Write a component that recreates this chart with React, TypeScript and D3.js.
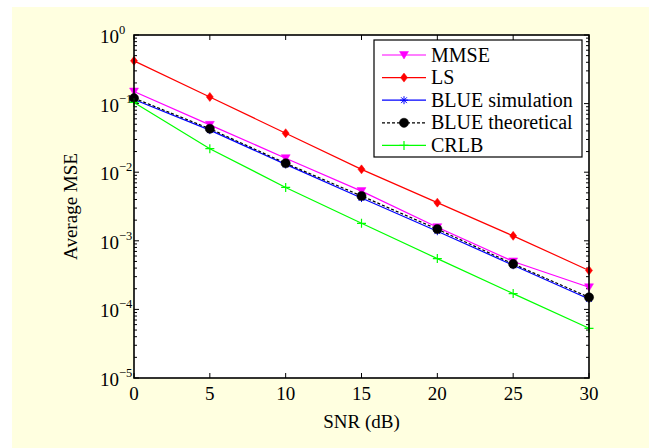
import React from "react";
import * as d3 from "d3";

const snr = [0, 5, 10, 15, 20, 25, 30];
const mmse = [0.15, 0.049, 0.016, 0.0053, 0.00158, 0.0005, 0.00021];
const ls = [0.42, 0.125, 0.037, 0.011, 0.0036, 0.00118, 0.00037];
const blueSim = [0.115, 0.041, 0.013, 0.0042, 0.00138, 0.00044, 0.000142];
const blueTheo = [0.12, 0.043, 0.0135, 0.0045, 0.00148, 0.00046, 0.00015];
const crlb = [0.104, 0.022, 0.006, 0.0018, 0.00055, 0.00017, 0.000053];
const xTicks = [0, 5, 10, 15, 20, 25, 30];
const yExps = [0, -1, -2, -3, -4, -5];

const W = 649, H = 448;
const L = 134, R = 589, T = 35, B = 378;
const font = "'Liberation Serif', 'Times New Roman', serif";

const series = [
  { name: "MMSE", data: mmse, color: "#ff00ff", marker: "tri", dash: "" },
  { name: "LS", data: ls, color: "#ff0000", marker: "diamond", dash: "" },
  { name: "BLUE simulation", data: blueSim, color: "#0000ff", marker: "star", dash: "" },
  { name: "BLUE theoretical", data: blueTheo, color: "#000000", marker: "circle", dash: "3,2" },
  { name: "CRLB", data: crlb, color: "#00ff00", marker: "plus", dash: "" },
];

function Marker({ type, x, y, color }: { type: string; x: number; y: number; color: string }) {
  if (type === "tri") {
    return <path d={`M${x - 4.5},${y - 3.5}L${x + 4.5},${y - 3.5}L${x},${y + 4}Z`} fill={color} stroke={color} strokeWidth={0.5} />;
  }
  if (type === "diamond") {
    return <path d={`M${x},${y - 4.5}L${x + 3.5},${y}L${x},${y + 4.5}L${x - 3.5},${y}Z`} fill={color} stroke={color} strokeWidth={0.5} />;
  }
  if (type === "circle") {
    return <circle cx={x} cy={y} r={4.6} fill={color} stroke={color} strokeWidth={0.5} />;
  }
  if (type === "star") {
    const s = 4;
    const d = 2.9;
    return (
      <path
        d={`M${x - s},${y}L${x + s},${y}M${x},${y - s}L${x},${y + s}M${x - d},${y - d}L${x + d},${y + d}M${x - d},${y + d}L${x + d},${y - d}`}
        stroke={color}
        strokeWidth={1}
        fill="none"
      />
    );
  }
  const s = 4.5;
  return <path d={`M${x - s},${y}L${x + s},${y}M${x},${y - s}L${x},${y + s}`} stroke={color} strokeWidth={1.2} fill="none" />;
}

export default function App() {
  const x = d3.scaleLinear().domain([0, 30]).range([L, R]);
  const y = d3.scaleLog().domain([1e-5, 1]).range([B, T]);
  const line = d3
    .line<number>()
    .x((_, i) => x(snr[i]))
    .y((d) => y(d));

  const minor: number[] = [];
  for (let e = -5; e < 0; e++) {
    for (let k = 2; k <= 9; k++) minor.push(k * Math.pow(10, e));
  }

  const legX = 374, legY = 40, legW = 208, legH = 117;
  const rowH = 22.6;

  return (
    <svg width={W} height={H} style={{ position: "absolute", left: 0, top: 0 }} fontFamily={font}>
      <rect x={0} y={0} width={W} height={H} fill="#ffffff" />
      <rect x={12} y={7} width={W - 12} height={H - 7} fill="#ffffe0" />
      <rect x={L} y={T} width={R - L} height={B - T} fill="#ffffff" />

      {/* ticks */}
      {xTicks.map((t) => (
        <g key={"xt" + t}>
          <line x1={x(t)} x2={x(t)} y1={B} y2={B - 5} stroke="#000" strokeWidth={1} />
          <line x1={x(t)} x2={x(t)} y1={T} y2={T + 5} stroke="#000" strokeWidth={1} />
          <text x={x(t)} y={400} textAnchor="middle" fontSize={19} fill="#000">
            {t}
          </text>
        </g>
      ))}
      {yExps.map((e) => (
        <g key={"yt" + e}>
          <line x1={L} x2={L + 5} y1={y(Math.pow(10, e))} y2={y(Math.pow(10, e))} stroke="#000" strokeWidth={1} />
          <line x1={R} x2={R - 5} y1={y(Math.pow(10, e))} y2={y(Math.pow(10, e))} stroke="#000" strokeWidth={1} />
          <text x={100} y={y(Math.pow(10, e)) + 8} fontSize={19} fill="#000">
            10
            <tspan fontSize={12.5} dy={-9}>
              {e === 0 ? "0" : "\u2212" + Math.abs(e)}
            </tspan>
          </text>
        </g>
      ))}
      {minor.map((m, i) => (
        <g key={"mn" + i}>
          <line x1={L} x2={L + 3} y1={y(m)} y2={y(m)} stroke="#000" strokeWidth={1} />
          <line x1={R} x2={R - 3} y1={y(m)} y2={y(m)} stroke="#000" strokeWidth={1} />
        </g>
      ))}

      {/* series */}
      {series.map((s) => (
        <g key={s.name}>
          <path d={line(s.data) || ""} fill="none" stroke={s.color} strokeWidth={1.2} strokeDasharray={s.dash || undefined} />
          {s.data.map((v, i) => (
            <Marker key={i} type={s.marker} x={x(snr[i])} y={y(v)} color={s.color} />
          ))}
        </g>
      ))}

      {/* axes box */}
      <rect x={L} y={T} width={R - L} height={B - T} fill="none" stroke="#000" strokeWidth={1.6} />

      {/* legend */}
      <rect x={legX} y={legY} width={legW} height={legH} fill="#ffffff" stroke="#000" strokeWidth={1.2} />
      {series.map((s, i) => {
        const cy = legY + 15 + i * rowH;
        return (
          <g key={"lg" + s.name}>
            <line x1={382} x2={426} y1={cy} y2={cy} stroke={s.color} strokeWidth={1.2} strokeDasharray={s.dash || undefined} />
            <Marker type={s.marker} x={404} y={cy} color={s.color} />
            <text x={431} y={cy + 6.5} fontSize={20} fill="#000">
              {s.name}
            </text>
          </g>
        );
      })}

      {/* axis titles */}
      <text x={(L + R) / 2} y={428} textAnchor="middle" fontSize={19} fill="#000">
        SNR (dB)
      </text>
      <text transform={`translate(77,${(T + B) / 2}) rotate(-90)`} textAnchor="middle" fontSize={19} fill="#000">
        Average MSE
      </text>
    </svg>
  );
}
